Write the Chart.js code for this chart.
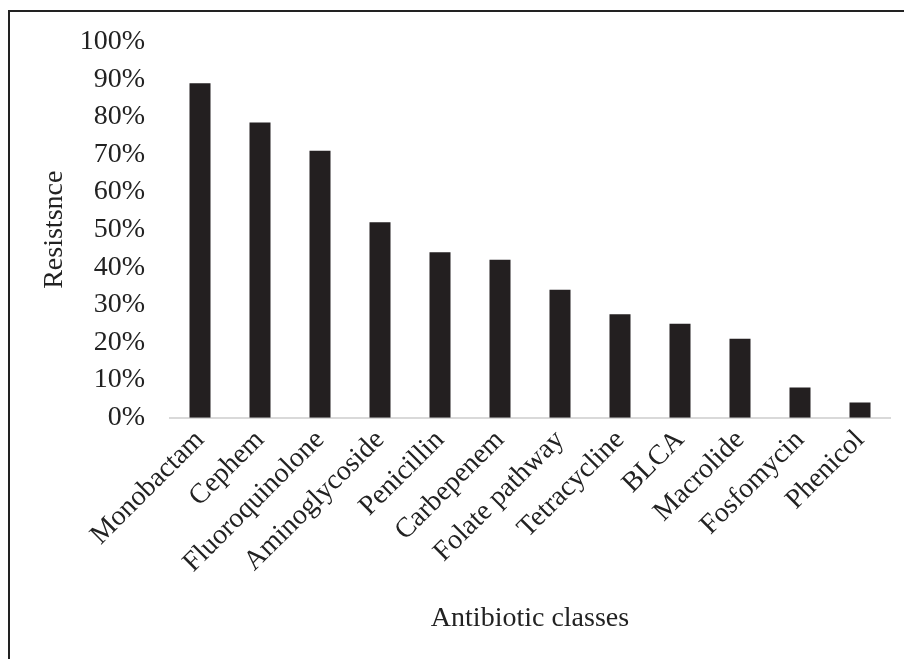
<!DOCTYPE html>
<html>
<head>
<meta charset="utf-8">
<script src="https://cdn.jsdelivr.net/npm/chart.js@4.4.1/dist/chart.umd.min.js"></script>
<style>
  body { margin: 0; background: #fff; }
  #wrap { position: relative; width: 904px; height: 659px; overflow: hidden; }
  #cadre { position: absolute; left: 8px; top: 10px; width: 1000px; height: 800px; border: 2px solid #222; box-sizing: border-box; }
  canvas { position: absolute; left: 0; top: 0; }
</style>
</head>
<body>
<div id="wrap">
  <div id="cadre"></div>
  <canvas id="myChart" width="904" height="659"></canvas>
</div>
<script>
// classes d'antibiotiques et pourcentage de résistance
const classes = ['Monobactam', 'Cephem', 'Fluoroquinolone', 'Aminoglycoside', 'Penicillin', 'Carbepenem',
  'Folate pathway', 'Tetracycline', 'BLCA', 'Macrolide', 'Fosfomycin', 'Phenicol'];
const resistance = [89, 78.5, 71, 52, 44, 42, 34, 27.5, 25, 21, 8, 4];
const yTicks = [0, 10, 20, 30, 40, 50, 60, 70, 80, 90, 100];

const police = { family: '"Liberation Serif", "Times New Roman", serif', size: 28 };

new Chart(document.getElementById('myChart'), {
  type: 'bar',
  data: {
    labels: classes,
    datasets: [{
      label: 'Resistsnce',
      data: resistance,
      backgroundColor: '#231f20',
      categoryPercentage: 1,
      barPercentage: 0.35
    }]
  },
  options: {
    responsive: false,
    animation: false,
    layout: { padding: { left: 0, top: 24, right: 14, bottom: 24 } },
    plugins: {
      legend: { display: false },
      tooltip: { enabled: false }
    },
    scales: {
      y: {
        min: 0,
        max: 100,
        afterBuildTicks: function (axis) {
          axis.ticks = yTicks.map(v => ({ value: v }));
        },
        afterFit: function (axis) {
          axis.width = 170; // largeur fixe de l'axe
        },
        grid: { display: false, drawTicks: false },
        border: { display: false },
        ticks: {
          padding: 25,
          color: '#222',
          font: police,
          callback: v => v + '%'
        },
        title: { display: true, text: 'Resistsnce', color: '#222', font: police, padding: { top: 38, bottom: 0 } }
      },
      x: {
        grid: { display: false, drawTicks: false },
        border: { display: true, color: '#d9d9d9', width: 2 },
        ticks: {
          minRotation: 45,
          maxRotation: 45,
          padding: 6,
          color: '#222',
          font: police
        },
        title: { display: true, text: 'Antibiotic classes', color: '#222', font: police, padding: { top: 16, bottom: 0 } }
      }
    }
  }
});
</script>
</body>
</html>
